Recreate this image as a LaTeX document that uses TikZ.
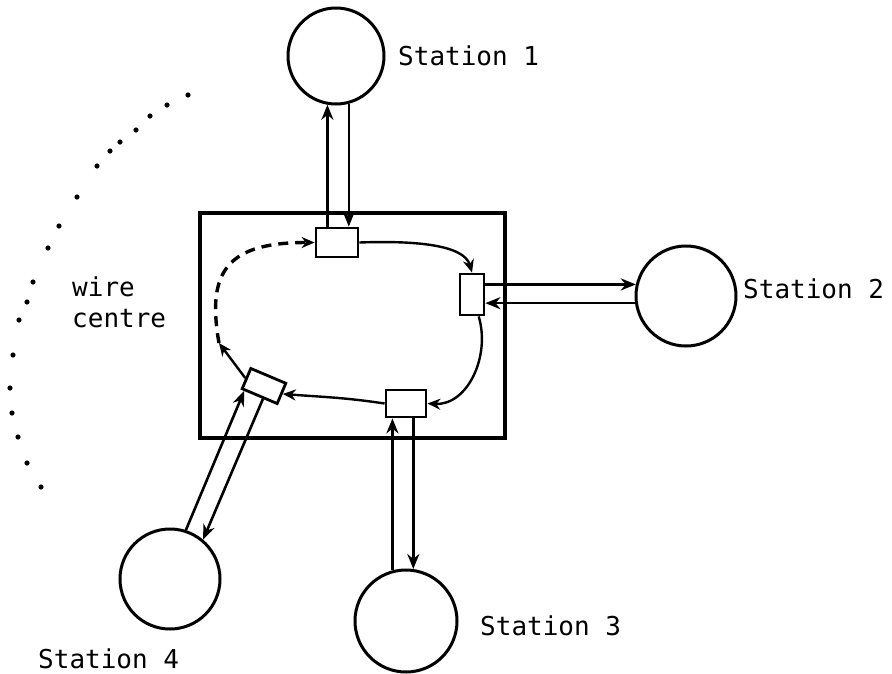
\documentclass[tikz,border=0pt]{standalone}
\usepackage{fontspec}
\newfontfamily\stnfont{DejaVu Sans Mono}
\usetikzlibrary{arrows.meta,calc}

\begin{document}
\begin{tikzpicture}[x=1pt, y=-1pt,
  station/.style={draw, circle, line width=3pt, minimum size=100pt, inner sep=0pt},
  port/.style={draw, line width=2.8pt, inner sep=0pt, fill=white},
  link/.style={-{Stealth[length=15pt, width=12pt]}, line width=2.6pt},
  ring/.style={-{Stealth[length=13pt, width=11pt]}, line width=2.4pt},
  lab/.style={font=\stnfont\fontsize{26}{31}\selectfont, inner sep=0pt}]
\useasboundingbox (0,0) rectangle (892,673);
\node[draw, line width=3.4pt, minimum width=305pt, minimum height=225pt] (wc) at (352.5,325.5) {};
\node[station, minimum size=96pt] (s1) at (336,56) {};
\node[station] (s2) at (686,296) {};
\node[station, minimum size=102pt] (s3) at (406,621) {};
\node[station] (s4) at (170,579) {};
\node[port, minimum width=42pt, minimum height=29pt] (t1) at (337,242.5) {};
\node[port, minimum width=24pt, minimum height=41pt] (t2) at (472,294.5) {};
\node[port, minimum width=40pt, minimum height=27pt] (t3) at (406,403.5) {};
\node[port, minimum width=38pt, minimum height=22pt, rotate=-23] (t4) at (264,386) {};
\coordinate (gap) at (219,343);
\draw[link] (s1.260 |- t1.north) -- (s1.260);
\draw[link] (s1.285) -- (s1.285 |- t1.north);
\draw[link] (t2.east |- s2.167) -- (s2.167);
\draw[link] (s2.188) -- (t2.east |- s2.188);
\draw[link] (s3.105) -- (s3.105 |- t3.south);
\draw[link] (s3.82 |- t3.south) -- (s3.82);
\draw[link] (s4.72) -- ($(t4.south west)!0.1!(t4.south east)$);
\draw[link] ($(t4.south west)!0.6!(t4.south east)$) -- (s4.50);
\draw[ring] (t1.east) .. controls +(55,-2) and +(-8,-28) .. (t2.north);
\draw[ring] ($(t2.south)!0.5!(t2.south east)$) .. controls +(12,40) and +(40,2) .. (t3.east);
\draw[ring] (t3.west) .. controls +(-40,-6) and +(40,3) .. (t4.east);
\draw[ring] (t4.west) -- (gap);
\draw[ring, line width=3.4pt, dash pattern=on 10pt off 7pt] (gap) .. controls +(-13,-73) and +(-86,0) .. (t1.west);
\foreach \x/\y in {188/95, 167/105, 150/116, 136/130, 120/142, 110/151, 97/166, 77/197, 59/226,
  48/248, 33/282, 27/302, 19/320, 13/355, 10/388, 12/413, 18/437, 27/463, 41/487}
  \fill (\x,\y) circle (2.6);
\node[lab, anchor=base west] (l1) at (398,65) {Station 1};
\node[lab, anchor=base west] (l2) at (743,298) {Station 2};
\node[lab, anchor=base west] (l3) at (480,635) {Station 3};
\node[lab, anchor=base west] (l4) at (38,668) {Station 4};
\node[lab, anchor=base west, align=left] (lw) at (72,327) {wire\\centre};
\end{tikzpicture}
\end{document}
